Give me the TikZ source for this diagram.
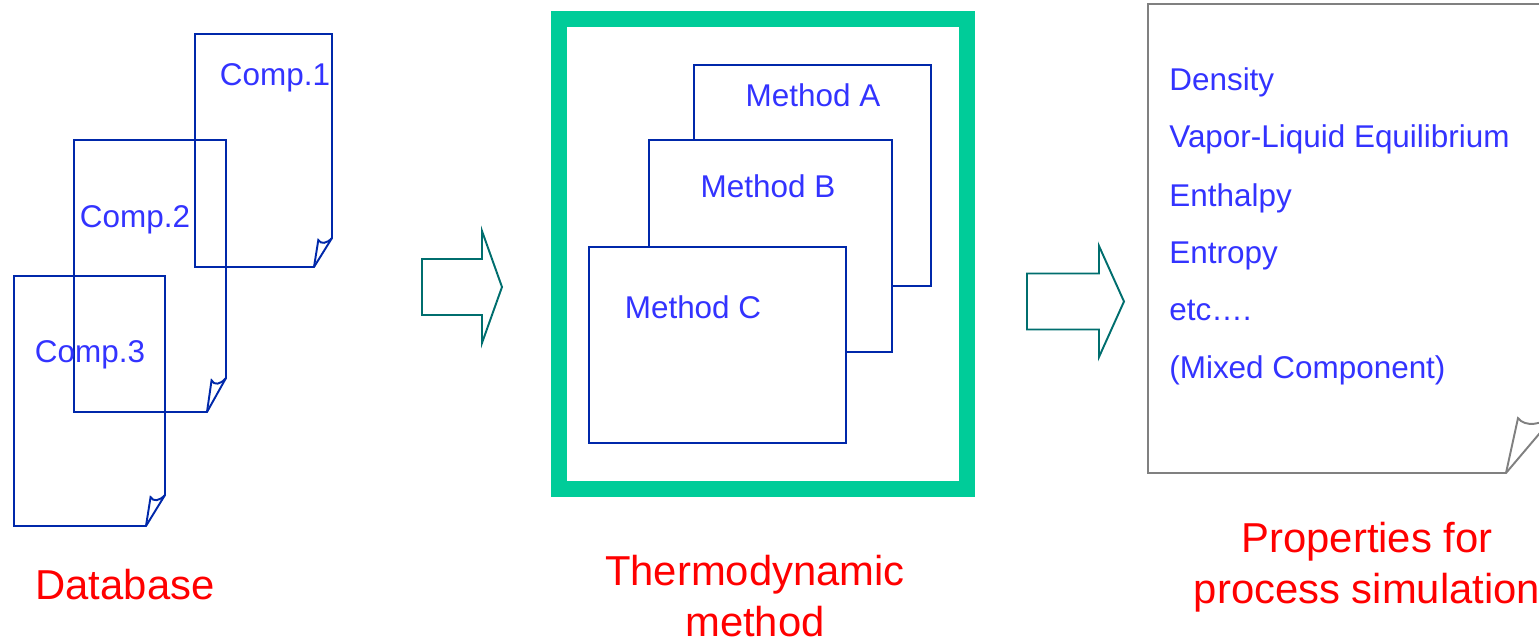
\documentclass[tikz,border=0pt]{standalone}
\usepackage{fontspec}
\setmainfont{Liberation Sans}
\usepackage{tikz}
\usetikzlibrary{positioning, calc}
\definecolor{docblue}{RGB}{0,40,170}
\definecolor{textblue}{RGB}{51,51,255}
\definecolor{framegreen}{RGB}{0,204,153}
\definecolor{arrowteal}{RGB}{0,110,110}
\definecolor{docgray}{RGB}{128,128,128}
\tikzset{
  complabel/.style={font=\fontsize{17.9}{21}\selectfont,text=textblue,inner sep=0pt,anchor=base},
  proplabel/.style={complabel,anchor=base west},
  caption/.style={font=\fontsize{23.8}{28.5}\selectfont,text=red,inner sep=0pt,align=center,anchor=base},
  docline/.style={draw=docblue,line width=1.1pt,line join=miter},
  grayline/.style={docline,draw=docgray},
  methodbox/.style={docline,fill=white},
  greenframe/.style={draw=framegreen,line width=0.32cm},
  blockarr/.style={draw=arrowteal,line width=1.1pt,line join=miter}
}
% style, left, top, right, bottom, ear width, ear height
\newcommand{\paperdoc}[7]{%
  \draw[#1] (#2,#3) -- (#4,#3) -- (#4,#5-#7) -- (#4-#6,#5) -- (#2,#5) -- cycle;
  \draw[#1] (#4-#6,#5) -- (#4-0.76*#6,#5-0.93*#7)
    .. controls (#4-0.62*#6,#5-0.78*#7) and (#4-0.3*#6,#5-0.8*#7) .. (#4,#5-#7);
}

\begin{document}
\begin{tikzpicture}[x=0.02cm,y=-0.02cm]
  \useasboundingbox (0,0) rectangle (1539,638);

  \paperdoc{docline}{195}{34}{332}{267}{18}{29}
  \paperdoc{docline}{74}{140}{226}{412}{19}{34}
  \paperdoc{docline}{14}{276}{165}{526}{19}{31}
  \node[complabel] (comp1) at (275,86) {Comp.1};
  \node[complabel] (comp2) at (135,228) {Comp.2};
  \node[complabel] (comp3) at (90,363) {Comp.3};
  \node[caption] (database) at (125,600) {Database};

  \draw[blockarr,shift={(422,287)}] (0,-28) -- (60,-28) -- (60,-56) -- (80,0)
    -- (60,56) -- (60,28) -- (0,28) -- cycle;

  \draw[greenframe] (558.5,19.5) rectangle (967,489);
  \draw[methodbox] (694,65) rectangle (931,286);
  \draw[methodbox] (649,140) rectangle (892,352);
  \draw[methodbox] (589,247) rectangle (846,443);
  \node[complabel] (methA) at (813,107) {Method A};
  \node[complabel] (methB) at (768,198) {Method B};
  \node[complabel] (methC) at (693,319) {Method C};
  \node[caption] (thermo) at (755,636) {Thermodynamic\\method};

  \draw[blockarr,shift={(1027,301.5)}] (0,-28) -- (72,-28) -- (72,-55.5) -- (97,0)
    -- (72,55.5) -- (72,28) -- (0,28) -- cycle;

  \paperdoc{grayline}{1148}{4}{1556}{473}{50}{59}
  \node[proplabel] (density) at (1169,91) {Density};
  \node[proplabel] (vle) at (1169,148) {Vapor-Liquid Equilibrium};
  \node[proplabel] (enthalpy) at (1169,207) {Enthalpy};
  \node[proplabel] (entropy) at (1169,264) {Entropy};
  \node[proplabel] (etc) at (1169,321) {etc….};
  \node[proplabel] (mixed) at (1169,379) {(Mixed Component)};
  \node[caption] (props) at (1367,603) {Properties for\\process simulation};
\end{tikzpicture}
\end{document}
